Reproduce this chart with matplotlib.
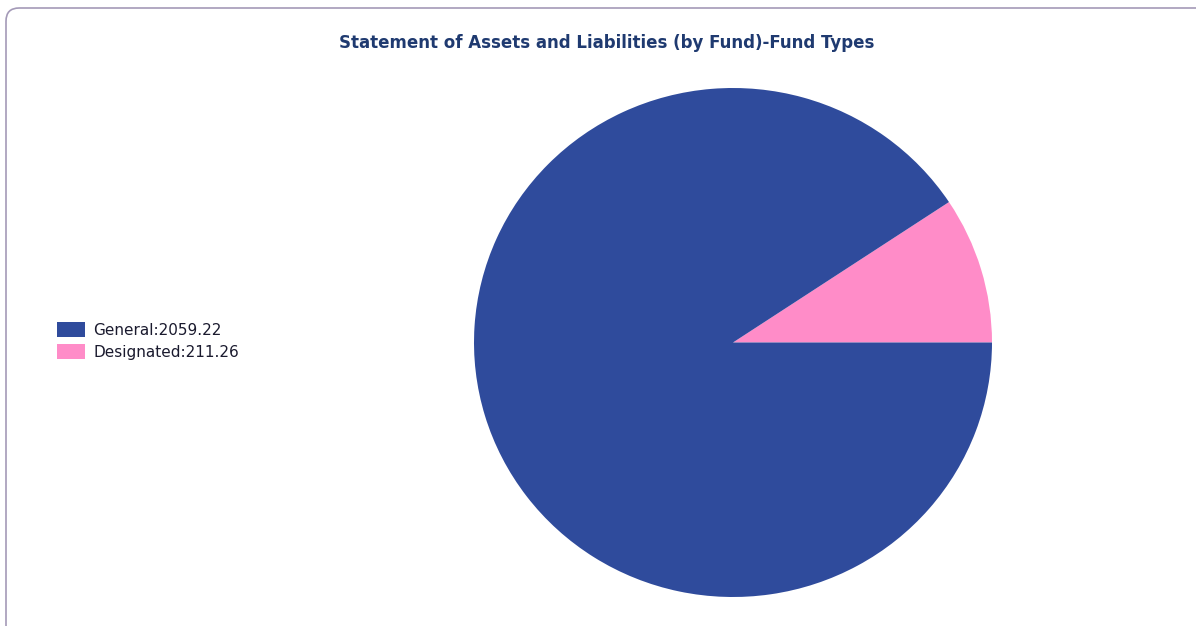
import matplotlib
matplotlib.use("Agg")
import matplotlib.pyplot as plt
from matplotlib.patches import FancyBboxPatch, Patch

categories = ["General", "Designated"]
values = [2059.22, 211.26]
colors = ["#2f4b9c", "#ff8cc8"]
title = "Statement of Assets and Liabilities (by Fund)-Fund Types"

W, H = 1196, 626
fig = plt.figure(figsize=(W / 100, H / 100), dpi=100)
fig.patch.set_facecolor("white")

# frame
frame = FancyBboxPatch((6 / W, -40 / H), (W + 60 - 6) / W, (H - 8 + 40) / H,
                       boxstyle="round,pad=0,rounding_size=0.011",
                       transform=fig.transFigure, fill=False,
                       edgecolor="#a49ab8", linewidth=1.2, mutation_aspect=W / H)
fig.patches.append(frame)

# pie axes
cx, cy = 733, 342.5
rx, ry = 259, 254.5
ax = fig.add_axes([(cx - rx) / W, (H - cy - ry) / H, 2 * rx / W, 2 * ry / H])
ax.pie(values[::-1], colors=colors[::-1], startangle=0, counterclock=True,
       wedgeprops=dict(linewidth=0))
ax.set_aspect("auto")
ax.set_xlim(-1, 1)
ax.set_ylim(-1, 1)
ax.axis("off")

fig.text(607 / W, 1 - 43 / H, title, ha="center", va="center",
         fontsize=12, fontweight="bold", color="#1f3a70", family="DejaVu Sans")

handles = [Patch(facecolor=c, edgecolor="none") for c in colors]
labels = [f"{c}:{v:.2f}" for c, v in zip(categories, values)]
leg = fig.legend(handles, labels, loc="center left",
                 bbox_to_anchor=(43 / W, 1 - 341 / H), frameon=False,
                 handlelength=1.85, handleheight=1.1, handletextpad=0.55,
                 labelspacing=0.4, prop=dict(family="DejaVu Sans", size=11))
for t in leg.get_texts():
    t.set_color("#1a1a2e")

fig.savefig("out.png", dpi=100, facecolor="white")
